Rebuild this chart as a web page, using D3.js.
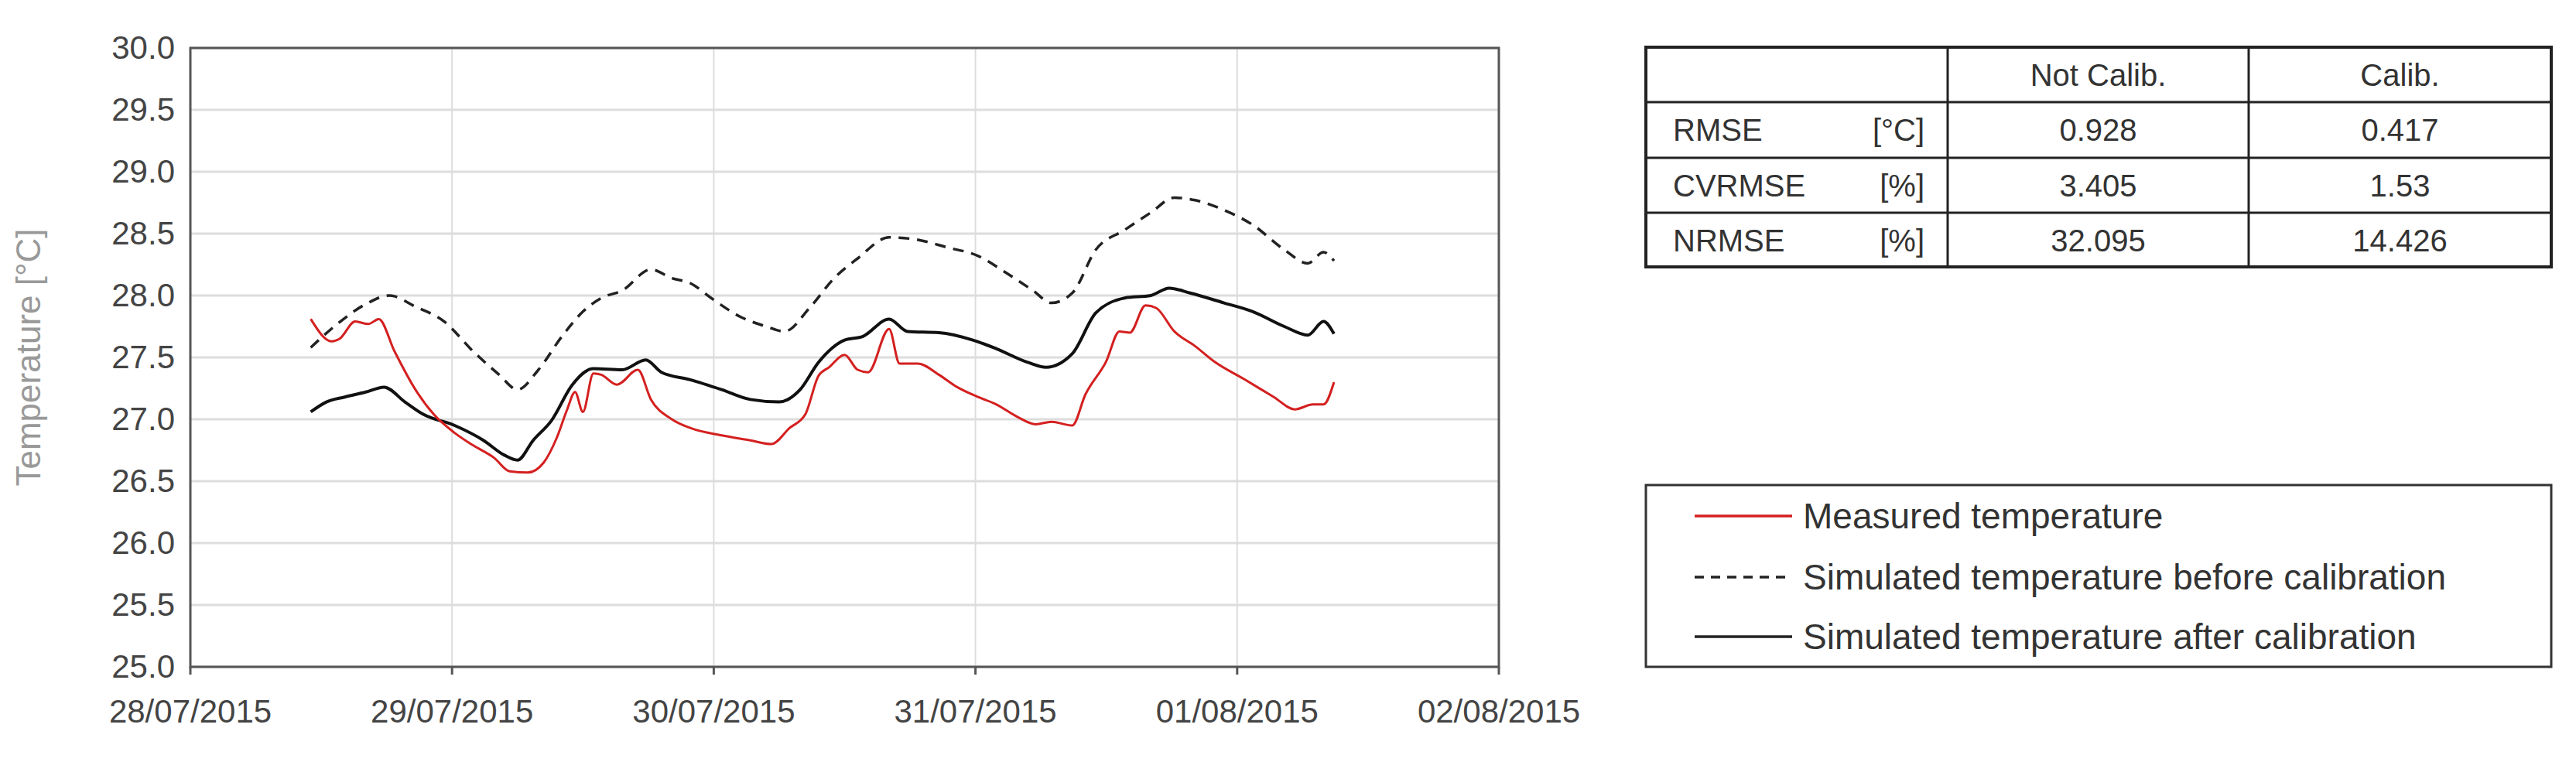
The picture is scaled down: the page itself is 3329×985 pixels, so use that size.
<!DOCTYPE html>
<html><head><meta charset="utf-8">
<script src="https://cdn.jsdelivr.net/npm/d3@7"></script>
<style>body{margin:0;background:#fff}</style></head>
<body><svg id="c" width="3329" height="985"></svg>
<script>
const xTickLabels=["28/07/2015","29/07/2015","30/07/2015","31/07/2015","01/08/2015","02/08/2015"];
const yTicks=[25,25.5,26,26.5,27,27.5,28,28.5,29,29.5,30];
const measured=[[0.46,27.81],[0.54,27.63],[0.57,27.65],[0.63,27.79],[0.68,27.77],[0.72,27.81],[0.78,27.55],[0.86,27.24],[0.93,27.04],[1.01,26.89],[1.08,26.79],[1.16,26.69],[1.22,26.58],[1.29,26.57],[1.35,26.65],[1.40,26.85],[1.44,27.08],[1.47,27.22],[1.50,27.06],[1.54,27.37],[1.57,27.36],[1.63,27.28],[1.71,27.40],[1.76,27.16],[1.84,27.0],[1.91,26.93],[2.03,26.87],[2.14,26.83],[2.22,26.80],[2.29,26.93],[2.35,27.04],[2.40,27.35],[2.44,27.42],[2.50,27.52],[2.55,27.40],[2.59,27.38],[2.67,27.73],[2.71,27.45],[2.78,27.45],[2.86,27.36],[2.93,27.26],[3.01,27.18],[3.08,27.12],[3.16,27.02],[3.23,26.96],[3.29,26.98],[3.37,26.95],[3.42,27.20],[3.50,27.47],[3.55,27.71],[3.59,27.70],[3.65,27.92],[3.69,27.90],[3.76,27.71],[3.84,27.59],[3.91,27.47],[4.03,27.32],[4.14,27.18],[4.22,27.08],[4.29,27.12],[4.33,27.12],[4.37,27.30]];
const simBefore=[[0.46,27.58],[0.55,27.75],[0.67,27.93],[0.76,28.0],[0.86,27.91],[0.97,27.79],[1.08,27.55],[1.18,27.36],[1.25,27.24],[1.33,27.40],[1.42,27.67],[1.50,27.87],[1.57,27.98],[1.65,28.04],[1.76,28.21],[1.84,28.14],[1.91,28.10],[1.99,27.98],[2.10,27.83],[2.20,27.75],[2.27,27.71],[2.37,27.91],[2.46,28.14],[2.55,28.30],[2.67,28.47],[2.78,28.45],[2.89,28.39],[3.01,28.32],[3.12,28.18],[3.22,28.04],[3.29,27.94],[3.37,28.02],[3.46,28.37],[3.57,28.53],[3.67,28.67],[3.76,28.79],[3.84,28.77],[3.95,28.69],[4.06,28.57],[4.18,28.37],[4.27,28.26],[4.33,28.35],[4.37,28.28]];
const simAfter=[[0.46,27.06],[0.52,27.14],[0.59,27.18],[0.67,27.22],[0.74,27.26],[0.82,27.14],[0.89,27.04],[1.01,26.95],[1.12,26.83],[1.20,26.71],[1.25,26.67],[1.31,26.83],[1.38,26.99],[1.46,27.28],[1.54,27.41],[1.65,27.40],[1.74,27.48],[1.80,27.38],[1.91,27.32],[2.03,27.24],[2.14,27.16],[2.25,27.14],[2.33,27.24],[2.40,27.46],[2.50,27.64],[2.57,27.67],[2.67,27.81],[2.74,27.71],[2.86,27.70],[2.99,27.64],[3.08,27.57],[3.20,27.46],[3.27,27.42],[3.37,27.53],[3.46,27.86],[3.57,27.98],[3.67,28.0],[3.74,28.06],[3.82,28.02],[3.95,27.94],[4.06,27.87],[4.18,27.75],[4.27,27.68],[4.33,27.79],[4.37,27.69]];
const tableHeader=["","Not Calib.","Calib."];
const tableRows=[["RMSE","[°C]","0.928","0.417"],["CVRMSE","[%]","3.405","1.53"],["NRMSE","[%]","32.095","14.426"]];
const legendLabels=["Measured temperature","Simulated temperature before calibration","Simulated temperature after calibration"];

const svg=d3.select("#c");
const F="'Liberation Sans Narrow','Liberation Sans',Arial,sans-serif";
const L=246,R=1937,T=62,B=862;
const x=d3.scaleLinear().domain([0,5]).range([L,R]);
const y=d3.scaleLinear().domain([25,30]).range([B,T]);
const g=svg.append("g");
g.selectAll(".hg").data(yTicks).join("line").attr("x1",L).attr("x2",R).attr("y1",d=>y(d)).attr("y2",d=>y(d)).attr("stroke","#ddd").attr("stroke-width",3);
g.selectAll(".vg").data(d3.range(1,5)).join("line").attr("x1",d=>x(d)).attr("x2",d=>x(d)).attr("y1",T).attr("y2",B).attr("stroke","#ddd").attr("stroke-width",2);
g.append("rect").attr("x",L).attr("y",T).attr("width",R-L).attr("height",B-T).attr("fill","none").attr("stroke","#555").attr("stroke-width",3);
g.selectAll(".xt").data(d3.range(0,6)).join("line").attr("x1",d=>x(d)).attr("x2",d=>x(d)).attr("y1",B).attr("y2",B+10).attr("stroke","#555").attr("stroke-width",3);
g.selectAll(".yl").data(yTicks).join("text").attr("x",L-20).attr("y",d=>y(d)+14).attr("text-anchor","end").attr("font-family",F).attr("font-size",42).attr("fill","#444").text(d=>d.toFixed(1));
g.selectAll(".xl").data(xTickLabels).join("text").attr("x",(d,i)=>x(i)).attr("y",B+72).attr("text-anchor","middle").attr("font-family",F).attr("font-size",42).attr("fill","#444").text(d=>d);
g.append("text").attr("transform",`translate(52,${(T+B)/2}) rotate(-90)`).attr("text-anchor","middle").attr("font-family","'Liberation Sans',Arial,sans-serif").attr("font-size",44).attr("fill","#999").text("Temperature [°C]");
const line=d3.line().x(d=>x(d[0])).y(d=>y(d[1])).curve(d3.curveMonotoneX);
g.append("path").attr("d",line(simBefore)).attr("fill","none").attr("stroke","#222").attr("stroke-width",3.5).attr("stroke-dasharray","14,10");
g.append("path").attr("d",line(simAfter)).attr("fill","none").attr("stroke","#111").attr("stroke-width",4);
g.append("path").attr("d",line(measured)).attr("fill","none").attr("stroke","#d42020").attr("stroke-width",3);

// table
const TL=2127,TR=3297,cols=[2127,2517,2906,3297],rows=[61,132,204,275,345];
const tg=svg.append("g");
tg.append("rect").attr("x",TL).attr("y",rows[0]).attr("width",TR-TL).attr("height",rows[4]-rows[0]).attr("fill","none").attr("stroke","#222").attr("stroke-width",4);
rows.slice(1,4).forEach(r=>tg.append("line").attr("x1",TL).attr("x2",TR).attr("y1",r).attr("y2",r).attr("stroke","#222").attr("stroke-width",3));
cols.slice(1,3).forEach(c=>tg.append("line").attr("x1",c).attr("x2",c).attr("y1",rows[0]).attr("y2",rows[4]).attr("stroke","#222").attr("stroke-width",3));
const TF="'Liberation Sans',Arial,sans-serif";
const fs=40;
tableHeader.forEach((h,i)=>{if(h)tg.append("text").attr("x",(cols[i]+cols[i+1])/2).attr("y",rows[0]+50).attr("text-anchor","middle").attr("font-family",TF).attr("font-size",fs).attr("fill","#333").text(h);});
tableRows.forEach((r,j)=>{
 const yy=rows[j+1]+50;
 tg.append("text").attr("x",TL+35).attr("y",yy).attr("font-family",TF).attr("font-size",fs).attr("fill","#333").text(r[0]);
 tg.append("text").attr("x",cols[1]-30).attr("y",yy).attr("text-anchor","end").attr("font-family",TF).attr("font-size",fs).attr("fill","#333").text(r[1]);
 tg.append("text").attr("x",(cols[1]+cols[2])/2).attr("y",yy).attr("text-anchor","middle").attr("font-family",TF).attr("font-size",fs).attr("fill","#333").text(r[2]);
 tg.append("text").attr("x",(cols[2]+cols[3])/2).attr("y",yy).attr("text-anchor","middle").attr("font-family",TF).attr("font-size",fs).attr("fill","#333").text(r[3]);
});
// legend
const lg=svg.append("g");
lg.append("rect").attr("x",TL).attr("y",627).attr("width",TR-TL).attr("height",862-627).attr("fill","none").attr("stroke","#333").attr("stroke-width",3);
const ly=[667,746,823],st=[{c:"#d42020",d:null},{c:"#222",d:"12,9"},{c:"#222",d:null}];
legendLabels.forEach((t,i)=>{
 lg.append("line").attr("x1",2190).attr("x2",2316).attr("y1",ly[i]).attr("y2",ly[i]).attr("stroke",st[i].c).attr("stroke-width",3.5).attr("stroke-dasharray",st[i].d);
 lg.append("text").attr("x",2330).attr("y",ly[i]+16).attr("font-family",TF).attr("font-size",46).attr("fill","#333").text(t);
});
</script></body></html>
